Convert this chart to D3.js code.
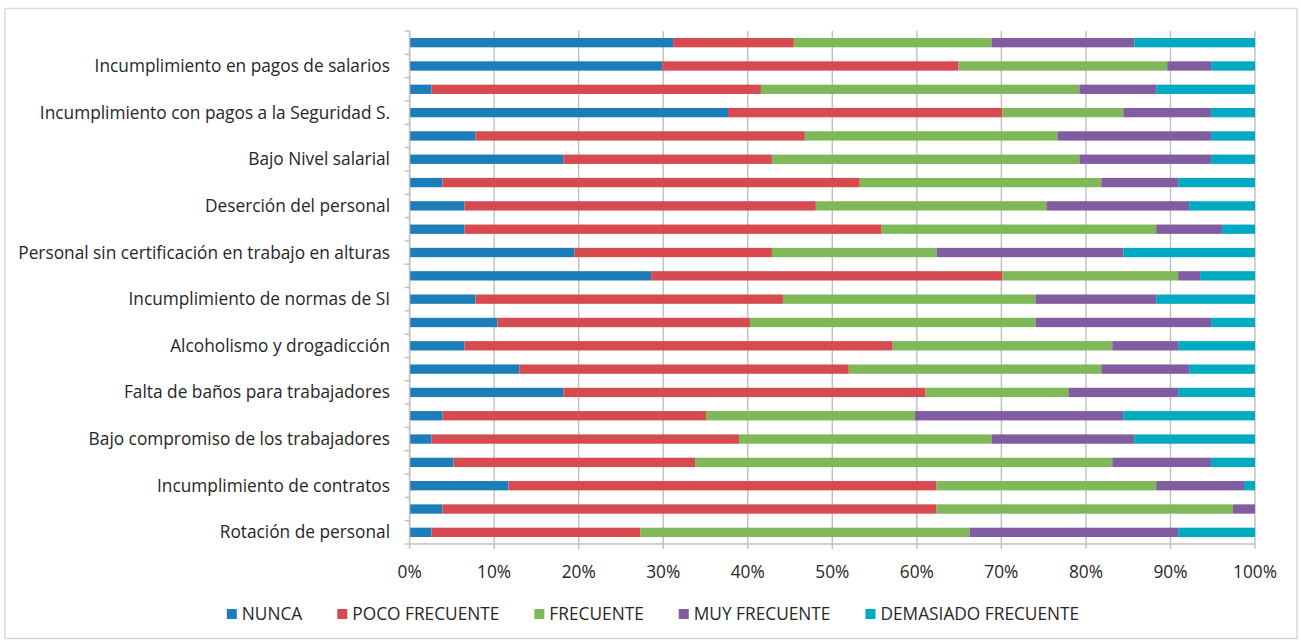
<!DOCTYPE html>
<html><head><meta charset="utf-8">
<script src="https://cdn.jsdelivr.net/npm/d3@7"></script>
<style>body{margin:0;background:#fff} svg{display:block} text{font-family:"Open Sans",sans-serif;fill:#262626}</style>
</head><body><svg id="c" width="1301" height="641"></svg>
<script>
// Top-to-bottom order; empty strings are categories whose labels are skipped on the axis
const categories = ["", "Incumplimiento en pagos de salarios", "", "Incumplimiento con pagos a la Seguridad S.", "", "Bajo Nivel salarial", "", "Deserción del personal", "", "Personal sin certificación en trabajo en alturas", "", "Incumplimiento de normas de SI", "", "Alcoholismo y drogadicción", "", "Falta de baños para trabajadores", "", "Bajo compromiso de los trabajadores", "", "Incumplimiento de contratos", "", "Rotación de personal"];
const seriesNames = ["NUNCA", "POCO FRECUENTE", "FRECUENTE", "MUY FRECUENTE", "DEMASIADO FRECUENTE"];
const nunca = [24,23,2,29,6,14,3,5,5,15,22,6,8,5,10,14,3,2,4,9,3,2];
const poco  = [11,27,30,25,30,19,38,32,38,18,32,28,23,39,30,33,24,28,22,39,45,19];
const frec  = [18,19,29,11,23,28,22,21,25,15,16,23,26,20,23,13,19,23,38,20,27,30];
const muy   = [13,4,7,8,14,12,7,13,6,17,2,11,16,6,8,10,19,13,9,8,2,19];
const dem   = [11,4,9,4,4,4,7,6,3,12,5,9,4,7,6,7,12,11,4,1,0,7];
const xTicks = [0,0.1,0.2,0.3,0.4,0.5,0.6,0.7,0.8,0.9,1];
const colors = ["#1b7db9", "#d64a50", "#7fb858", "#805ca0", "#00aac0"];

const values = [nunca, poco, frec, muy, dem];
const rows = categories.map((c, i) => {
  const o = {idx: i};
  seriesNames.forEach((s, k) => o[s] = values[k][i]);
  return o;
});

const svg = d3.select("#c");
const L = 409.6, R = 1255, T = 31, B = 544;
const FS = 17.3;

svg.append("rect").attr("x", 5).attr("y", 8.5).attr("width", 1292).attr("height", 630)
  .attr("fill", "#fff").attr("stroke", "#d9d9d9").attr("stroke-width", 1.5);

const x = d3.scaleLinear().domain([0, 1]).range([L, R]);
const y = d3.scaleBand().domain(d3.range(categories.length)).range([T, B])
  .paddingInner(0.6).paddingOuter(0.3);

const gridColor = "#bfbfbf";
svg.append("g").selectAll("line").data(xTicks).join("line")
  .attr("x1", d => x(d)).attr("x2", d => x(d))
  .attr("y1", T).attr("y2", B)
  .attr("stroke", gridColor).attr("stroke-width", 1.4);

const stack = d3.stack().keys(seriesNames).offset(d3.stackOffsetExpand);
const layers = stack(rows);
svg.append("g").selectAll("g").data(layers).join("g")
  .attr("fill", (d, i) => colors[i])
  .selectAll("rect").data(d => d).join("rect")
  .attr("x", d => x(d[0]))
  .attr("width", d => Math.max(0, x(d[1]) - x(d[0])))
  .attr("y", d => y(d.data.idx))
  .attr("height", y.bandwidth());

const step = y.step();
svg.append("line").attr("x1", L).attr("x2", L).attr("y1", T).attr("y2", B)
  .attr("stroke", gridColor).attr("stroke-width", 1.4);
svg.append("g").selectAll("line").data(d3.range(categories.length + 1)).join("line")
  .attr("x1", L - 5).attr("x2", L)
  .attr("y1", i => T + i * step).attr("y2", i => T + i * step)
  .attr("stroke", gridColor).attr("stroke-width", 1.4);

svg.append("g").selectAll("text").data(rows.filter(r => categories[r.idx] !== "")).join("text")
  .attr("x", 390).attr("y", d => y(d.idx) + y.bandwidth() / 2)
  .attr("dy", "0.35em").attr("text-anchor", "end")
  .attr("font-size", FS)
  .text(d => categories[d.idx]);

svg.append("line").attr("x1", L).attr("x2", R).attr("y1", B).attr("y2", B)
  .attr("stroke", gridColor).attr("stroke-width", 1.4);
svg.append("g").selectAll("line").data(xTicks).join("line")
  .attr("x1", d => x(d)).attr("x2", d => x(d)).attr("y1", B).attr("y2", B + 5)
  .attr("stroke", gridColor).attr("stroke-width", 1.4);
svg.append("g").selectAll("text").data(xTicks).join("text")
  .attr("x", d => x(d)).attr("y", 572).attr("dy", "0.35em")
  .attr("text-anchor", "middle").attr("font-size", FS)
  .text(d => d3.format(".0%")(d));

const lg = svg.append("g");
const items = lg.selectAll("g").data(seriesNames).join("g");
items.append("rect").attr("width", 10).attr("height", 10).attr("y", -5)
  .attr("fill", (d, i) => colors[i]);
items.append("text").attr("x", 15).attr("dy", "0.35em").attr("font-size", FS).text(d => d);
let pos = 0; const offs = [];
items.each(function () { offs.push(pos); pos += this.getBBox().width + 35; });
const total = pos - 35;
const start = 653 - total / 2;
items.attr("transform", (d, i) => `translate(${start + offs[i]},614)`);
</script></body></html>
